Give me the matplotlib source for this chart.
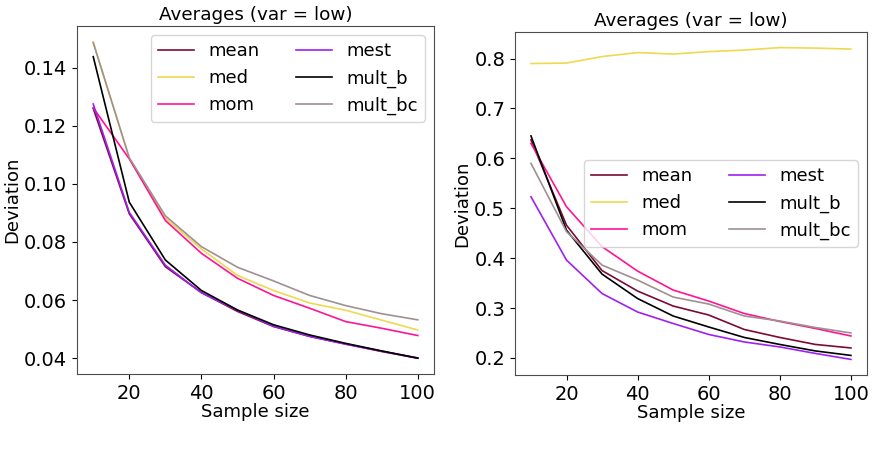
import numpy as np
import matplotlib
matplotlib.use("Agg")
import matplotlib.pyplot as plt

plt.rcParams['font.family'] = ['DejaVu Sans']
plt.rcParams['font.size'] = 13
plt.rcParams['xtick.labelsize'] = 14
plt.rcParams['ytick.labelsize'] = 14

sizes = [10, 20, 30, 40, 50, 60, 70, 80, 90, 100]
names = ["mean", "med", "mom", "mest", "mult_b", "mult_bc"]
colors = ["#7d0a35", "#f0d850", "#ff1493", "#a020f0", "#000000", "#a09090"]

# left panel
left_mean    = [0.1260, 0.0897, 0.0715, 0.0626, 0.0561, 0.0509, 0.0475, 0.0449, 0.0423, 0.0400]
left_med     = [0.1489, 0.1088, 0.0882, 0.0776, 0.0685, 0.0633, 0.0590, 0.0565, 0.0531, 0.0497]
left_mom     = [0.1262, 0.1086, 0.0874, 0.0761, 0.0675, 0.0616, 0.0572, 0.0526, 0.0503, 0.0478]
left_mest    = [0.1275, 0.0902, 0.0720, 0.0625, 0.0565, 0.0510, 0.0475, 0.0448, 0.0424, 0.0401]
left_mult_b  = [0.1438, 0.0937, 0.0738, 0.0633, 0.0566, 0.0515, 0.0480, 0.0451, 0.0425, 0.0400]
left_mult_bc = [0.1486, 0.1090, 0.0890, 0.0784, 0.0713, 0.0666, 0.0616, 0.0581, 0.0553, 0.0532]

# right panel
right_mean    = [0.637, 0.466, 0.375, 0.334, 0.304, 0.286, 0.257, 0.241, 0.227, 0.220]
right_med     = [0.790, 0.791, 0.804, 0.812, 0.809, 0.814, 0.817, 0.822, 0.821, 0.819]
right_mom     = [0.630, 0.503, 0.423, 0.374, 0.336, 0.314, 0.289, 0.273, 0.259, 0.244]
right_mest    = [0.523, 0.396, 0.329, 0.292, 0.269, 0.247, 0.232, 0.222, 0.209, 0.197]
right_mult_b  = [0.645, 0.456, 0.368, 0.319, 0.284, 0.262, 0.241, 0.227, 0.214, 0.205]
right_mult_bc = [0.590, 0.453, 0.386, 0.356, 0.322, 0.308, 0.284, 0.274, 0.261, 0.250]

left = [left_mean, left_med, left_mom, left_mest, left_mult_b, left_mult_bc]
right = [right_mean, right_med, right_mom, right_mest, right_mult_b, right_mult_bc]

fig = plt.figure(figsize=(8.74, 4.54), dpi=100)
ax1 = fig.add_axes([0.0881, 0.1762, 0.4085, 0.7665])
ax2 = fig.add_axes([0.5892, 0.174, 0.4027, 0.7555])

for ax, data, loc in [(ax1, left, "upper right"), (ax2, right, "center right")]:
    for name, col, vals in zip(names, colors, data):
        ax.plot(sizes, vals, color=col, lw=1.2, label=name)
    ax.set_title("Averages (var = low)", fontsize=13.2, pad=4)
    ax.set_xlabel("Sample size", labelpad=0)
    ax.set_ylabel("Deviation", labelpad=2)
    ax.set_xticks([20, 40, 60, 80, 100])
    for s in ax.spines.values():
        s.set_color("0.3")
    ax.legend(loc=loc, ncol=2, fontsize=13)

fig.savefig("out.png", dpi=100)
